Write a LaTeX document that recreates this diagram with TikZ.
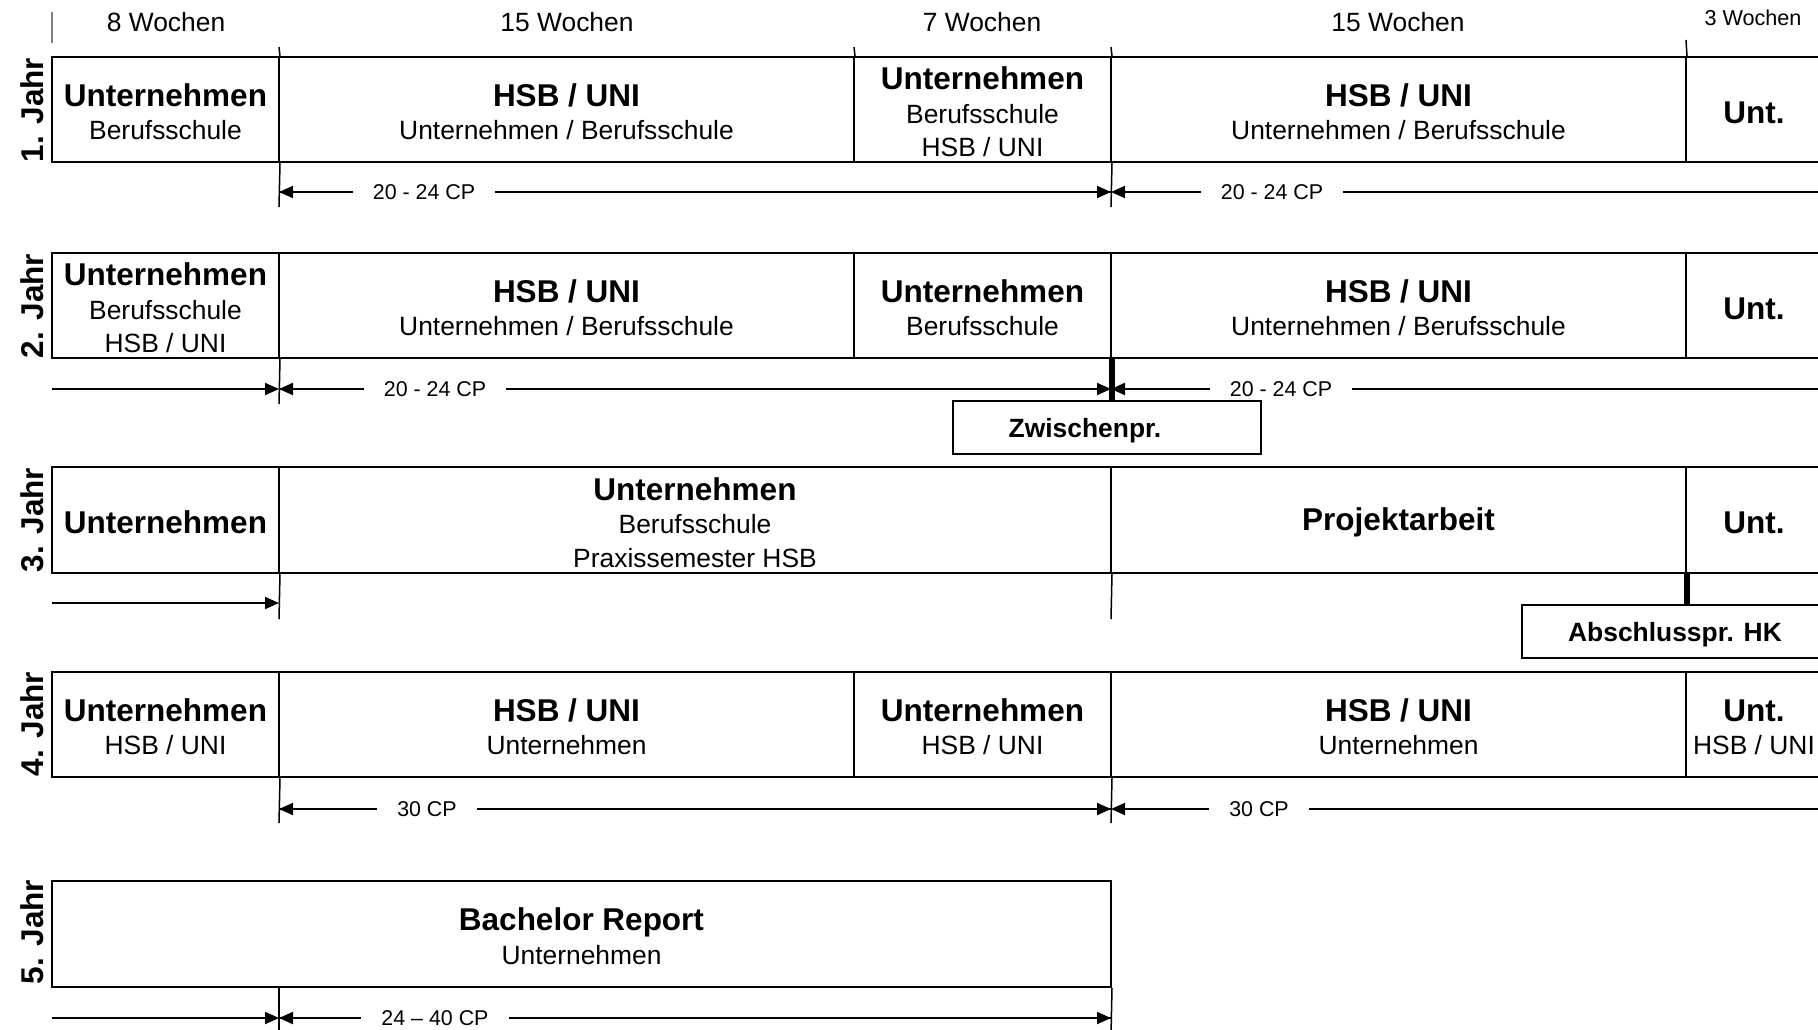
\documentclass[tikz,border=0pt]{standalone}
\usepackage{fontspec}
\setmainfont{Liberation Sans}
\usetikzlibrary{arrows.meta}

\newcommand{\fb}{\fontsize{31.5}{35}\selectfont\bfseries}
\newcommand{\fr}{\fontsize{26.4}{33.5}\selectfont}
\newcommand{\fsm}{\fontsize{21.4}{25}\selectfont}

\tikzset{
  cell/.style={draw, line width=2pt, inner sep=0pt, align=center, font=\fr},
  wk/.style={font=\fr, inner sep=0pt},
  tickline/.style={line width=1.5pt},
  bar/.style={line width=6pt},
  dimline/.style={line width=2pt, -{Triangle[length=14pt,width=12pt]}},
  cplabel/.style={fill=white, inner xsep=20pt, inner ysep=2pt, font=\fsm},
  yearlabel/.style={rotate=90, font=\fb, inner sep=0pt},
  exambox/.style={draw, line width=2pt, inner sep=0pt},
  examtext/.style={font=\fontsize{26.4}{30}\selectfont\bfseries, inner sep=0pt}
}

\newcommand{\cell}[6]{\node[cell, minimum width={(#3-#2)*1pt}, minimum height={(#5-#4)*1pt}] (#1) at ({(#2+#3)/2},{(#4+#5)/2}) {\rule{0pt}{27.5pt}#6};}

\begin{document}
\begin{tikzpicture}[x=1pt,y=-1pt]
\clip (0,0) rectangle (1818,1029);
\fill[white] (0,0) rectangle (1818,1029);

% week labels
\node[wk] (w1) at (166,22) {8 Wochen};
\node[wk] (w2) at (567,22) {15 Wochen};
\node[wk] (w3) at (982,22) {7 Wochen};
\node[wk] (w4) at (1398,22) {15 Wochen};
\node[wk, font=\fontsize{21.6}{25}\selectfont] (w5) at (1753,18) {3 Wochen};

% top ticks
\coordinate (t0a) at (52,12); \coordinate (t0b) at (52,43);
\draw[line width=1.2pt, gray] (t0a) -- (t0b);
\coordinate (t1) at (279,47); \coordinate (t2) at (854,47);
\coordinate (t3) at (1111,47); \coordinate (t4) at (1686,40);

% ---------- Row 1 ----------
\cell{r1a}{52}{279}{57}{162}{{\fb Unternehmen}\\Berufsschule}
\cell{r1b}{279}{854}{57}{162}{{\fb HSB / UNI}\\Unternehmen / Berufsschule}
\cell{r1c}{854}{1111}{57}{162}{{\fb Unternehmen}\\Berufsschule\\HSB / UNI}
\cell{r1d}{1111}{1686}{57}{162}{{\fb HSB / UNI}\\Unternehmen / Berufsschule}
\cell{r1e}{1686}{1822}{57}{162}{{\fb Unt.}}
\draw[tickline] (t1) -- (r1a.north east);
\draw[tickline] (t2) -- (r1b.north east);
\draw[tickline] (t3) -- (r1c.north east);
\draw[tickline] (t4) -- (r1d.north east);

\coordinate (r1x1) at (279,207); \coordinate (r1x3) at (1111,207);
\draw[tickline] (r1a.south east) -- (r1x1);
\draw[tickline] (r1c.south east) -- (r1x3);
\coordinate (r1a1) at (279,192); \coordinate (r1a3) at (1111,192); \coordinate (r1e) at (1830,192);
\draw[dimline] (r1a3) -- (r1a1);
\draw[dimline] (r1a1) -- (r1a3);
\draw[dimline] (r1e) -- (r1a3);
\node[cplabel] (cp11) at (424,192) {20 - 24 CP};
\node[cplabel] (cp12) at (1272,192) {20 - 24 CP};

% ---------- Row 2 ----------
\cell{r2a}{52}{279}{253}{358}{{\fb Unternehmen}\\Berufsschule\\HSB / UNI}
\cell{r2b}{279}{854}{253}{358}{{\fb HSB / UNI}\\Unternehmen / Berufsschule}
\cell{r2c}{854}{1111}{253}{358}{{\fb Unternehmen}\\Berufsschule}
\cell{r2d}{1111}{1686}{253}{358}{{\fb HSB / UNI}\\Unternehmen / Berufsschule}
\cell{r2e}{1686}{1822}{253}{358}{{\fb Unt.}}

\node[exambox, minimum width=308pt, minimum height=53pt] (zp) at (1107,427.5) {};
\node[examtext] (zpt) at (1085,431) {Zwischenpr.};

\coordinate (r2x1) at (279,404);
\draw[tickline] (r2a.south east) -- (r2x1);
\draw[bar] (r2c.south east) -- (r2c.south east |- zp.north);
\coordinate (r2l) at (52,389); \coordinate (r2a1) at (279,389); \coordinate (r2a3) at (1111,389); \coordinate (r2e) at (1830,389);
\draw[dimline] (r2l) -- (r2a1);
\draw[dimline] (r2a3) -- (r2a1);
\draw[dimline] (r2a1) -- (r2a3);
\draw[dimline] (r2e) -- (r2a3);
\node[cplabel] (cp21) at (435,389) {20 - 24 CP};
\node[cplabel] (cp22) at (1281,389) {20 - 24 CP};

% ---------- Row 3 ----------
\cell{r3a}{52}{279}{467}{573}{{\fb Unternehmen}}
\cell{r3b}{279}{1111}{467}{573}{{\fb Unternehmen}\\Berufsschule\\Praxissemester HSB}
\cell{r3d}{1111}{1686}{467}{573}{{\fb Projektarbeit}}
\cell{r3e}{1686}{1822}{467}{573}{{\fb Unt.}}

\node[exambox, minimum width=308pt, minimum height=53pt] (ap) at (1676,631.5) {};
\node[examtext] (apt) at (1675,635) {Abschlusspr. HK};

\coordinate (r3x1) at (279,619); \coordinate (r3x3) at (1111,619);
\draw[tickline] (r3a.south east) -- (r3x1);
\draw[tickline] (r3b.south east) -- (r3x3);
\draw[bar] (r3d.south east) -- (r3d.south east |- ap.north);
\coordinate (r3l) at (52,603); \coordinate (r3a1) at (279,603);
\draw[dimline] (r3l) -- (r3a1);

% ---------- Row 4 ----------
\cell{r4a}{52}{279}{672}{777}{{\fb Unternehmen}\\HSB / UNI}
\cell{r4b}{279}{854}{672}{777}{{\fb HSB / UNI}\\Unternehmen}
\cell{r4c}{854}{1111}{672}{777}{{\fb Unternehmen}\\HSB / UNI}
\cell{r4d}{1111}{1686}{672}{777}{{\fb HSB / UNI}\\Unternehmen}
\cell{r4e}{1686}{1822}{672}{777}{{\fb Unt.}\\HSB / UNI}

\coordinate (r4x1) at (279,823); \coordinate (r4x3) at (1111,823);
\draw[tickline] (r4a.south east) -- (r4x1);
\draw[tickline] (r4c.south east) -- (r4x3);
\coordinate (r4a1) at (279,809); \coordinate (r4a3) at (1111,809); \coordinate (r4e) at (1830,809);
\draw[dimline] (r4a3) -- (r4a1);
\draw[dimline] (r4a1) -- (r4a3);
\draw[dimline] (r4e) -- (r4a3);
\node[cplabel] (cp41) at (427,809) {30 CP};
\node[cplabel] (cp42) at (1259,809) {30 CP};

% ---------- Row 5 ----------
\cell{r5a}{52}{1111}{881}{987}{{\fb Bachelor Report}\\Unternehmen}
\coordinate (r5t1) at (279,987); \coordinate (r5x1) at (279,1035); \coordinate (r5x3) at (1111,1035);
\draw[tickline] (r5t1) -- (r5x1);
\draw[tickline] (r5a.south east) -- (r5x3);
\coordinate (r5l) at (52,1018); \coordinate (r5a1) at (279,1018); \coordinate (r5a3) at (1111,1018);
\draw[dimline] (r5l) -- (r5a1);
\draw[dimline] (r5a3) -- (r5a1);
\draw[dimline] (r5a1) -- (r5a3);
\node[cplabel] (cp51) at (435,1018) {24 – 40 CP};

% year labels
\node[yearlabel] (j1) at (32,110) {1. Jahr};
\node[yearlabel] (j2) at (32,306) {2. Jahr};
\node[yearlabel] (j3) at (32,520) {3. Jahr};
\node[yearlabel] (j4) at (32,724) {4. Jahr};
\node[yearlabel] (j5) at (32,932) {5. Jahr};
\end{tikzpicture}
\end{document}
